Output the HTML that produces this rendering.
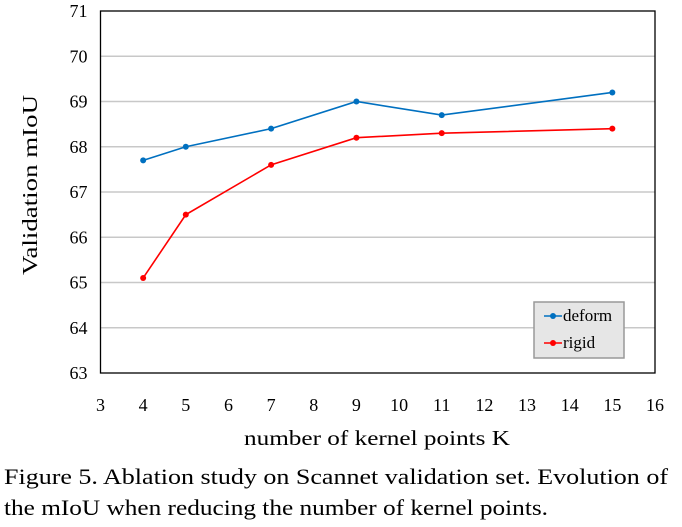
<!DOCTYPE html>
<html><head><meta charset="utf-8"><style>
body{margin:0;background:#fff;width:682px;height:527px;overflow:hidden;font-family:"Liberation Serif",serif}
svg{display:block}
</style></head><body>
<svg width="682" height="527" id="c" font-family="Liberation Serif, serif">
<text x="4" y="484" font-size="22" textLength="664" lengthAdjust="spacingAndGlyphs">Figure 5. Ablation study on Scannet validation set.  Evolution of</text>
<text x="4" y="515" font-size="22" textLength="544" lengthAdjust="spacingAndGlyphs">the mIoU when reducing the number of kernel points.</text>
</svg>
<script>
const xTicks=[3,4,5,6,7,8,9,10,11,12,13,14,15,16];
const yTicks=[63,64,65,66,67,68,69,70,71];
const kValues=[4,5,7,9,11,15];
const deformValues=[67.7,68.0,68.4,69.0,68.7,69.2];
const rigidValues=[65.1,66.5,67.6,68.2,68.3,68.4];
const svg=document.getElementById('c');const NS='http://www.w3.org/2000/svg';
const L=100.5,R=655,T=11,B=373;
const xs=v=>L+(v-3)/(16-3)*(R-L);
const ys=v=>B-(v-63)/(71-63)*(B-T);
function mk(t,a,p){const e=document.createElementNS(NS,t);for(const k in a)e.setAttribute(k,a[k]);(p||svg).appendChild(e);return e;}
yTicks.forEach(v=>{
 if(v>63&&v<71){const g=mk('line',{x1:L,x2:R,y1:ys(v),y2:ys(v),stroke:'#c8c8c8','stroke-width':1.5});
 
 }
 const t=mk('text',{x:L-22,y:ys(v)+6,'font-size':18,'text-anchor':'middle'});t.textContent=v;
 
 
});
xTicks.forEach(v=>{const t=mk('text',{x:xs(v),y:411,'font-size':18,'text-anchor':'middle'});t.textContent=v;
 
 });
const frame=mk('rect',{x:L,y:T,width:R-L,height:B-T,fill:'none',stroke:'#000','stroke-width':1.3});


function series(vals,color,name){
 const p=mk('polyline',{points:kValues.map((k,i)=>xs(k)+','+ys(vals[i])).join(' '),fill:'none',stroke:color,'stroke-width':1.6});
 
 
 kValues.forEach((k,i)=>{const c=mk('circle',{cx:xs(k),cy:ys(vals[i]),r:3,fill:color});
 
 });
}
series(deformValues,'#0070c0','deform');
series(rigidValues,'#ff0000','rigid');
const yt=mk('text',{x:0,y:0,'font-size':21,'text-anchor':'middle',textLength:180,lengthAdjust:'spacingAndGlyphs',transform:'translate(37,185) rotate(-90)'});yt.textContent='Validation mIoU';


const xt=mk('text',{x:377,y:445,'font-size':21,'text-anchor':'middle',textLength:266,lengthAdjust:'spacingAndGlyphs'});xt.textContent='number of kernel points K';


const lg=mk('g',{});


mk('rect',{x:534,y:302,width:90,height:56,fill:'#e6e6e6',stroke:'#999','stroke-width':1.5},lg);
[['deform','#0070c0',316],['rigid','#ff0000',343]].forEach(([n,c,y])=>{
 const g=mk('g',{},lg);
 
 
 mk('line',{x1:544,x2:562,y1:y,y2:y,stroke:c,'stroke-width':1.6},g);
 mk('circle',{cx:553,cy:y,r:3,fill:c},g);
 const t=mk('text',{x:563,y:y+5,'font-size':17},g);t.textContent=n;
});
</script>
</body></html>
